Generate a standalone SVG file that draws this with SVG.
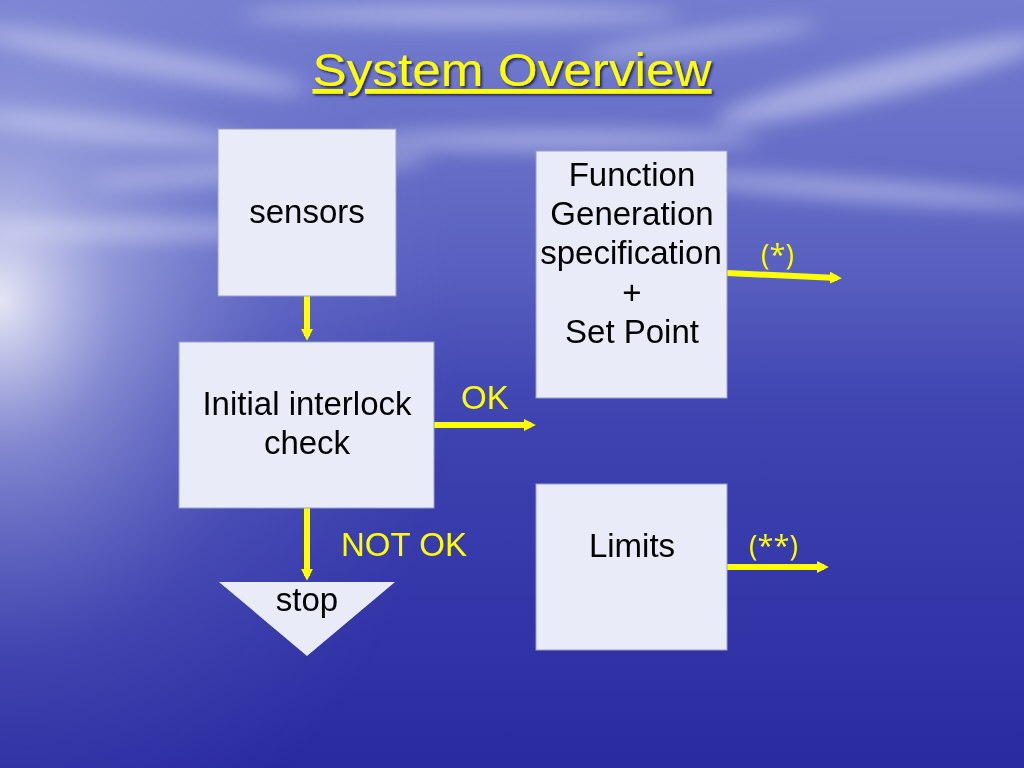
<svg xmlns="http://www.w3.org/2000/svg" width="1024" height="768" viewBox="0 0 1024 768">
<defs>
<linearGradient id="bg" x1="0" y1="0" x2="0" y2="1">
<stop offset="0" stop-color="#6670c8"/>
<stop offset="0.25" stop-color="#5860c0"/>
<stop offset="0.5" stop-color="#4046b2"/>
<stop offset="1" stop-color="#2a2aa0"/>
</linearGradient>
<radialGradient id="glow" cx="0" cy="0.42" r="0.5" fx="0" fy="0.4" gradientTransform="translate(0 0.42) scale(0.9 1.5) translate(0 -0.42)">
<stop offset="0" stop-color="#ffffff" stop-opacity="0.85"/>
<stop offset="0.25" stop-color="#d6dcf6" stop-opacity="0.45"/>
<stop offset="0.6" stop-color="#a0a8e6" stop-opacity="0.15"/>
<stop offset="1" stop-color="#8090e0" stop-opacity="0"/>
</radialGradient>
<linearGradient id="sky" x1="0" y1="0" x2="0" y2="1">
<stop offset="0" stop-color="#8088d4" stop-opacity="0.5"/>
<stop offset="0.35" stop-color="#7078cc" stop-opacity="0.3"/>
<stop offset="0.55" stop-color="#6068c0" stop-opacity="0"/>
</linearGradient>
<filter id="blur" x="-50%" y="-50%" width="200%" height="200%"><feGaussianBlur stdDeviation="10"/></filter>
<filter id="shadow" x="-10%" y="-20%" width="120%" height="150%"><feDropShadow dx="2" dy="2" stdDeviation="0.8" flood-color="#1a1a50" flood-opacity="0.8"/></filter>
<marker id="ah" viewBox="0 0 10 10" refX="6" refY="5" markerWidth="2" markerHeight="2" orient="auto" markerUnits="strokeWidth">
<path d="M0,0 L10,5 L0,10 z" fill="#ffff00"/>
</marker>
<style>
.box{fill:#e9ecf8;stroke:#9aa0c8;stroke-width:1}
.t{font-family:"Liberation Sans",Arial,sans-serif;font-size:33px;fill:#000;text-anchor:middle}
.y{font-family:"Liberation Sans",Arial,sans-serif;font-size:33px;fill:#ffff00}
.yc{font-family:"Open Sans","Liberation Sans",sans-serif;font-size:29px;fill:#ffff00}
.c{stroke:#ffff00;stroke-width:6;fill:none}
</style>
</defs>
<rect width="1024" height="768" fill="url(#bg)"/>
<rect width="1024" height="768" fill="url(#sky)"/>
<g filter="url(#blur)" fill="#e4e8fa" opacity="0.5">
<ellipse cx="140" cy="60" rx="170" ry="14" transform="rotate(10 140 60)"/>
<ellipse cx="110" cy="130" rx="150" ry="12" transform="rotate(6 110 130)"/>
<ellipse cx="260" cy="170" rx="170" ry="10" transform="rotate(-4 260 170)"/>
<ellipse cx="560" cy="140" rx="200" ry="10"/>
<ellipse cx="880" cy="80" rx="170" ry="18" transform="rotate(-14 880 80)"/>
<ellipse cx="860" cy="190" rx="200" ry="10" transform="rotate(4 860 190)"/>
<ellipse cx="140" cy="230" rx="160" ry="10"/>
<ellipse cx="460" cy="15" rx="220" ry="10"/>
<ellipse cx="700" cy="40" rx="120" ry="8" transform="rotate(-8 700 40)"/>
</g>
<rect width="1024" height="768" fill="url(#glow)"/>
<text x="512" y="86" font-family="'Liberation Sans',Arial,sans-serif" font-size="47" fill="#ffff00" text-anchor="middle" text-decoration="underline" textLength="399" lengthAdjust="spacingAndGlyphs" filter="url(#shadow)">System Overview</text>
<g id="connectors">
<line class="c" x1="307" y1="296" x2="307" y2="336" marker-end="url(#ah)"/>
<line class="c" x1="434" y1="425" x2="531" y2="425" marker-end="url(#ah)"/>
<line class="c" x1="307" y1="508" x2="307" y2="576" marker-end="url(#ah)"/>
<line class="c" x1="727" y1="273" x2="837" y2="278" marker-end="url(#ah)"/>
<line class="c" x1="727" y1="567" x2="824" y2="567" marker-end="url(#ah)"/>
<text class="y" x="461" y="409">OK</text>
<text class="y" x="341" y="556">NOT OK</text>
<text class="yc" x="761" y="265">(*)</text>
<text class="yc" x="749" y="556">(**)</text>
</g>
<g id="sensors">
<rect class="box" x="218" y="129" width="178" height="167"/>
<text class="t" x="307" y="223">sensors</text>
</g>
<g id="interlock">
<rect class="box" x="179" y="342" width="255" height="166"/>
<text class="t" x="307" y="415">Initial interlock</text>
<text class="t" x="307" y="454">check</text>
</g>
<g id="stop">
<polygon points="219,582 395,582 307,656" fill="#e9ecf8"/>
<text class="t" x="307" y="611">stop</text>
</g>
<g id="function">
<rect class="box" x="536" y="151" width="191" height="247"/>
<text class="t" x="632" y="186">Function</text>
<text class="t" x="632" y="225">Generation</text>
<text class="t" x="631" y="264">specification</text>
<text class="t" x="632" y="304">+</text>
<text class="t" x="632" y="343">Set Point</text>
</g>
<g id="limits">
<rect class="box" x="536" y="484" width="191" height="166"/>
<text class="t" x="632" y="557">Limits</text>
</g>
</svg>
